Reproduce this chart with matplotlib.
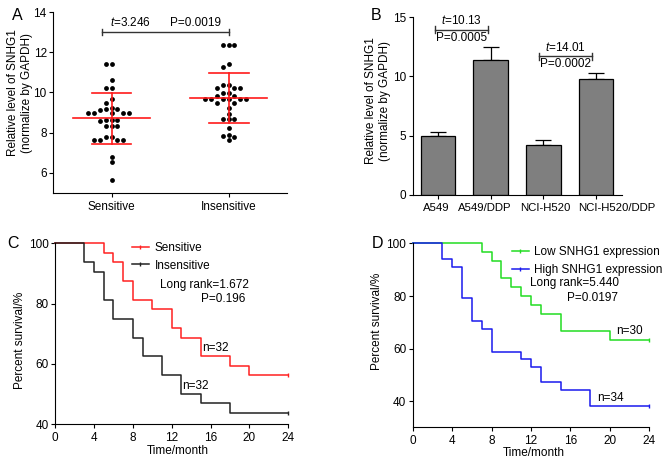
import numpy as np
import matplotlib
matplotlib.use("Agg")
import matplotlib.pyplot as plt
from matplotlib.lines import Line2D
from matplotlib.transforms import ScaledTranslation

plt.rcParams['font.family'] = ['Liberation Sans', 'DejaVu Sans']
plt.rcParams['font.size'] = 8.5
plt.rcParams['mathtext.fontset'] = 'custom'
plt.rcParams['mathtext.it'] = 'Liberation Sans:italic'
plt.rcParams['mathtext.rm'] = 'Liberation Sans'
plt.rcParams['axes.linewidth'] = 0.8
plt.rcParams['xtick.major.width'] = 0.8
plt.rcParams['ytick.major.width'] = 0.8
plt.rcParams['xtick.major.size'] = 3
plt.rcParams['ytick.major.size'] = 3
plt.rcParams['ytick.major.pad'] = 1.5
plt.rcParams['xtick.major.pad'] = 2.5

# ---- panel A data (relative SNHG1 level per patient)
groups_a = ["Sensitive", "Insensitive"]
sensitive = [11.40, 11.40, 10.60, 10.24, 10.24, 9.67, 9.47, 9.17, 9.17, 9.14,
             9.24, 8.98, 8.98, 8.98, 8.98, 8.98, 8.56, 8.64, 8.64, 8.64,
             8.31, 8.31, 8.31, 7.81, 7.81, 7.62, 7.62, 7.62, 7.62, 6.79,
             6.55, 5.66]
insensitive = [12.37, 12.34, 12.37, 11.40, 11.26, 10.37, 10.24, 10.24, 10.24,
               10.37, 9.97, 9.97, 9.85, 9.85, 9.66, 9.66, 9.66, 9.66, 9.66,
               9.66, 9.47, 9.47, 9.24, 8.91, 8.66, 8.66, 8.66, 8.23, 7.86,
               7.62, 7.78, 7.91]

# ---- panel B data
cells = ["A549", "A549/DDP", "NCI-H520", "NCI-H520/DDP"]
cell_mean = [5.0, 11.4, 4.2, 9.8]
cell_err = [0.3, 1.05, 0.45, 0.5]

# ---- panel C data (survival curves)
sens_t = [0, 5, 6, 7, 8, 10, 12, 13, 15, 18, 20, 24]
sens_s = [100, 96.9, 93.75, 87.5, 81.25, 78.1, 71.9, 68.75, 62.5, 59.4, 56.25, 56.25]
insens_t = [0, 3, 4, 5, 6, 8, 9, 11, 13, 15, 18, 24]
insens_s = [100, 93.75, 90.6, 81.25, 75.0, 68.75, 62.5, 56.25, 50.0, 46.9, 43.75, 43.75]

# ---- panel D data
low_t = [0, 7, 8, 9, 10, 11, 12, 13, 15, 20, 24]
low_s = [100, 96.7, 93.3, 86.7, 83.3, 80.0, 76.7, 73.3, 66.7, 63.3, 63.3]
high_t = [0, 3, 4, 5, 6, 7, 8, 11, 12, 13, 15, 18, 24]
high_s = [100, 94.1, 91.2, 79.4, 70.6, 67.6, 58.8, 55.9, 52.9, 47.1, 44.1, 38.2, 38.2]


def swarm(vals, center, xpx, ypx, step=5.8, rad=4.6):
    # beeswarm: rows from top to bottom, each dot at the nearest free slot
    vals = np.asarray(vals)
    xs = np.zeros(len(vals))
    placed = []
    cand = [0]
    for k in range(1, 10):
        cand += [-k, k]
    for i in np.argsort(-vals, kind='stable'):
        y = vals[i] * ypx
        for k in cand:
            x = k * step
            if all((x - px) ** 2 + (y - py) ** 2 >= rad ** 2 for px, py in placed):
                break
        placed.append((x, y))
        xs[i] = x
    return center + xs / xpx


def clean(ax):
    ax.spines['top'].set_visible(False)
    ax.spines['right'].set_visible(False)


fig = plt.figure(figsize=(6.71, 4.63), dpi=100)

# ================= A
axA = fig.add_axes([0.079, 0.583, 0.349, 0.391])
clean(axA)
red = '#ff1a1a'
for i, vals in enumerate([sensitive, insensitive]):
    xs = swarm(vals, i, 116.7, 20.1)
    axA.scatter(xs, vals, s=12, c='black', zorder=3, linewidths=0)
    m = np.mean(vals)
    sd = np.std(vals, ddof=1)
    axA.plot([i - 0.33, i + 0.33], [m, m], color=red, lw=1.2, zorder=4)
    axA.plot([i, i], [m - sd, m + sd], color=red, lw=1.2, zorder=4)
    for yy in (m - sd, m + sd):
        axA.plot([i - 0.17, i + 0.17], [yy, yy], color=red, lw=1.2, zorder=4)
axA.plot([-0.08, 1.0], [13.0, 13.0], color='#333333', lw=1)
axA.plot([-0.08, -0.08], [12.85, 13.15], color='#333333', lw=1)
axA.plot([1.0, 1.0], [12.85, 13.15], color='#333333', lw=1)
axA.text(0.16, 13.15, '$t$=3.246', ha='center', va='bottom')
axA.text(0.715, 13.15, 'P=0.0019', ha='center', va='bottom')
axA.set_xlim(-0.5, 1.5)
axA.set_ylim(5, 14)
axA.set_yticks([6, 8, 10, 12, 14])
axA.set_xticks([0, 1])
axA.set_xticklabels(groups_a)
axA.set_ylabel('Relative level of SNHG1\n(normalize by GAPDH)', va='center', linespacing=1.2)
axA.yaxis.set_label_coords(-0.141, 0.555)
fig.text(12 / 671, 1 - 15 / 463, 'A', fontsize=11.5, ha='left', va='center')

# ================= B
axB = fig.add_axes([0.615, 0.579, 0.3115, 0.384])
clean(axB)
xb = np.arange(len(cells))
axB.bar(xb, cell_mean, width=0.66, color='#7f7f7f', edgecolor='black', lw=0.9, zorder=2)
axB.errorbar(xb, cell_mean, yerr=[np.zeros(len(cells)), cell_err], fmt='none',
             ecolor='black', elinewidth=0.9, capsize=6, capthick=0.9, zorder=1)
for x0, x1, yb, tt, pp in [(-0.06, 0.955, 13.93, '$t$=10.13', 'P=0.0005'),
                           (1.92, 2.93, 11.68, '$t$=14.01', 'P=0.0002')]:
    axB.plot([x0, x1], [yb, yb], color='#333333', lw=1)
    axB.plot([x0, x0], [yb - 0.3, yb + 0.3], color='#333333', lw=1)
    axB.plot([x1, x1], [yb - 0.3, yb + 0.3], color='#333333', lw=1)
    axB.text((x0 + x1) / 2, yb + 0.2, tt, ha='center', va='bottom')
    axB.text((x0 + x1) / 2, yb - 0.15, pp, ha='center', va='top')
axB.set_xlim(-0.48, 3.49)
axB.set_ylim(0, 15)
axB.set_yticks([0, 5, 10, 15])
axB.set_xticks(xb)
axB.set_xticklabels(cells, fontsize=8.2)
for lbl, dx in zip(axB.get_xticklabels(), [-2, -6, 2, 21]):
    lbl.set_transform(lbl.get_transform() + ScaledTranslation(dx / 100, 0, fig.dpi_scale_trans))
axB.set_ylabel('Relative level of SNHG1\n(normalize by GAPDH)', va='center', linespacing=1.2)
axB.yaxis.set_label_coords(-0.165, 0.529)
fig.text(371 / 671, 1 - 15 / 463, 'B', fontsize=11.5, ha='left', va='center')

# ================= C
axC = fig.add_axes([0.082, 0.0836, 0.3477, 0.391])
clean(axC)
axC.step(sens_t, sens_s, where='post', color='#ff2020', lw=1.1, marker='|', ms=3,
         markevery=[len(sens_t) - 1], clip_on=False)
axC.step(insens_t, insens_s, where='post', color='#222222', lw=1.1, marker='|', ms=3,
         markevery=[len(insens_t) - 1], clip_on=False)
axC.set_xlim(0, 24)
axC.set_ylim(40, 100)
axC.set_xticks(range(0, 25, 4))
axC.set_yticks([40, 60, 80, 100])
axC.set_xlabel('Time/month')
axC.xaxis.set_label_coords(0.528, -0.115)
axC.set_ylabel('Percent survival/%', va='center')
axC.yaxis.set_label_coords(-0.15, 0.466)
hC = [Line2D([0], [0], color='#ff2020', lw=1.1, marker='|', ms=3),
      Line2D([0], [0], color='#222222', lw=1.1, marker='|', ms=3)]
axC.legend(hC, ['Sensitive', 'Insensitive'], loc='upper left', bbox_to_anchor=(0.31, 1.035),
           frameon=False, handlelength=1.4, handletextpad=0.5, labelspacing=0.5,
           borderaxespad=0)
axC.text(19.9, 86.2, 'Long rank=1.672', ha='right', va='center')
axC.text(19.6, 81.4, 'P=0.196', ha='right', va='center')
axC.text(15.1, 63.2, 'n=32', ha='left', va='bottom')
axC.text(13.1, 50.8, 'n=32', ha='left', va='bottom')
fig.text(7 / 671, 1 - 244 / 463, 'C', fontsize=11.5, ha='left', va='center')

# ================= D
axD = fig.add_axes([0.615, 0.0771, 0.3526, 0.397])
clean(axD)
axD.step(low_t, low_s, where='post', color='#22dd22', lw=1.1, marker='|', ms=3,
         markevery=[len(low_t) - 1], clip_on=False)
axD.step(high_t, high_s, where='post', color='#1a1aee', lw=1.1, marker='|', ms=3,
         markevery=[len(high_t) - 1], clip_on=False)
axD.set_xlim(0, 24)
axD.set_ylim(30, 100)
axD.set_xticks(range(0, 25, 4))
axD.set_yticks([40, 60, 80, 100])
axD.set_xlabel('Time/month')
axD.xaxis.set_label_coords(0.51, -0.105)
axD.set_ylabel('Percent survival/%', va='center')
axD.yaxis.set_label_coords(-0.152, 0.574)
hD = [Line2D([0], [0], color='#22dd22', lw=1.1, marker='|', ms=3),
      Line2D([0], [0], color='#1a1aee', lw=1.1, marker='|', ms=3)]
axD.legend(hD, ['Low SNHG1 expression', 'High SNHG1 expression'], loc='upper left',
           bbox_to_anchor=(0.40, 1.01), frameon=False, handlelength=1.4,
           handletextpad=0.5, labelspacing=0.45, borderaxespad=0)
axD.text(11.9, 84.8, 'Long rank=5.440', ha='left', va='center')
axD.text(15.7, 79.2, 'P=0.0197', ha='left', va='center')
axD.text(20.6, 64.2, 'n=30', ha='left', va='bottom')
axD.text(18.7, 38.9, 'n=34', ha='left', va='bottom')
fig.text(372 / 671, 1 - 243 / 463, 'D', fontsize=11.5, ha='left', va='center')

fig.savefig('out.png', dpi=100)
